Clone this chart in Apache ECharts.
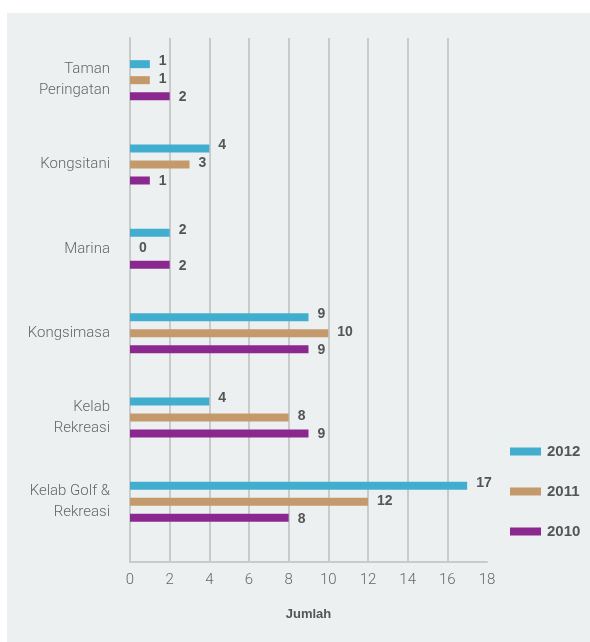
<!DOCTYPE html>
<html>
<head>
<meta charset="utf-8">
<script src="https://cdn.jsdelivr.net/npm/echarts@6/dist/echarts.min.js"></script>
<style>
  html, body { margin: 0; padding: 0; background: #ffffff; }
  #panel { position: absolute; left: 7px; top: 13px; width: 583px; height: 629px; background: #edf0f1; }
  #chart { position: absolute; left: 0; top: 0; width: 590px; height: 642px; }
</style>
</head>
<body>
<div id="panel"></div>
<div id="chart"></div>
<script>
// Facilities by category, counted per year
const categories = ['Taman\nPeringatan', 'Kongsitani', 'Marina', 'Kongsimasa', 'Kelab\nRekreasi', 'Kelab Golf &\nRekreasi'];
const years = ['2012', '2011', '2010'];
const values2012 = [1, 4, 2, 9, 4, 17];
const values2011 = [1, 3, 0, 10, 8, 12];
const values2010 = [2, 1, 2, 9, 9, 8];
const xTicks = { min: 0, max: 18, interval: 2 };

const colors = ['#42aecf', '#c4996c', '#8a2890'];
const gridColor = '#c9cbcb';
const font = 'Roboto, "Liberation Sans", sans-serif';

const chart = echarts.init(document.getElementById('chart'), null, { renderer: 'canvas' });

function barSeries(name, data, color, dy) {
  return {
    name: name,
    type: 'bar',
    xAxisIndex: 0,
    yAxisIndex: 0,
    data: data,
    barWidth: 8,
    barGap: '100%',
    itemStyle: { color: color },
    label: {
      show: true,
      position: 'right',
      distance: 9,
      offset: [0, dy],
      color: '#555555',
      fontFamily: '"Liberation Sans", Arial, sans-serif',
      fontWeight: 'bold',
      fontSize: 14
    }
  };
}

chart.setOption({
  animation: false,
  backgroundColor: 'transparent',
  color: colors,
  grid: [
    { left: 130, top: 38, width: 357, height: 506 },
    { left: 130, top: 544, width: 357, height: 18 }
  ],
  legend: {
    orient: 'vertical',
    left: 505,
    top: 439,
    itemWidth: 31,
    itemHeight: 8,
    itemGap: 25,
    icon: 'rect',
    data: years,
    textStyle: {
      color: '#555555',
      fontFamily: '"Liberation Sans", Arial, sans-serif',
      fontWeight: 'bold',
      fontSize: 15,
      padding: [0, 0, 0, 1]
    }
  },
  xAxis: [
    {
      gridIndex: 0,
      type: 'value',
      min: xTicks.min, max: xTicks.max, interval: xTicks.interval,
      axisLine: { show: false },
      axisTick: { show: false },
      axisLabel: { show: false },
      splitLine: { show: true, showMaxLine: false, lineStyle: { color: gridColor, width: 2 } }
    },
    {
      gridIndex: 1,
      type: 'value',
      min: xTicks.min, max: xTicks.max, interval: xTicks.interval,
      axisLine: { show: true, lineStyle: { color: gridColor, width: 2 } },
      axisTick: { show: false },
      axisLabel: { show: true, color: '#666666', fontFamily: font, fontWeight: 300, fontSize: 15, margin: 11 },
      splitLine: { show: true, showMaxLine: false, lineStyle: { color: gridColor, width: 2 } },
      name: 'Jumlah',
      nameLocation: 'middle',
      nameGap: 46,
      nameTextStyle: { color: '#555555', fontFamily: '"Liberation Sans", Arial, sans-serif', fontWeight: 'bold', fontSize: 13 }
    }
  ],
  yAxis: [
    {
      gridIndex: 0,
      type: 'category',
      inverse: true,
      data: categories,
      axisLine: { show: true, lineStyle: { color: gridColor, width: 2 } },
      axisTick: { show: false },
      axisLabel: { color: '#666666', fontFamily: font, fontWeight: 300, fontSize: 15, lineHeight: 21, margin: 20, align: 'right' },
      splitLine: { show: false }
    },
    {
      gridIndex: 1,
      type: 'value',
      min: 0, max: 1,
      axisLine: { show: true, lineStyle: { color: gridColor, width: 2 } },
      axisTick: { show: false },
      axisLabel: { show: false },
      splitLine: { show: false }
    }
  ],
  series: [
    barSeries('2012', values2012, colors[0], -3),
    barSeries('2011', values2011, colors[1], -1),
    barSeries('2010', values2010, colors[2], 1)
  ]
});
</script>
</body>
</html>
